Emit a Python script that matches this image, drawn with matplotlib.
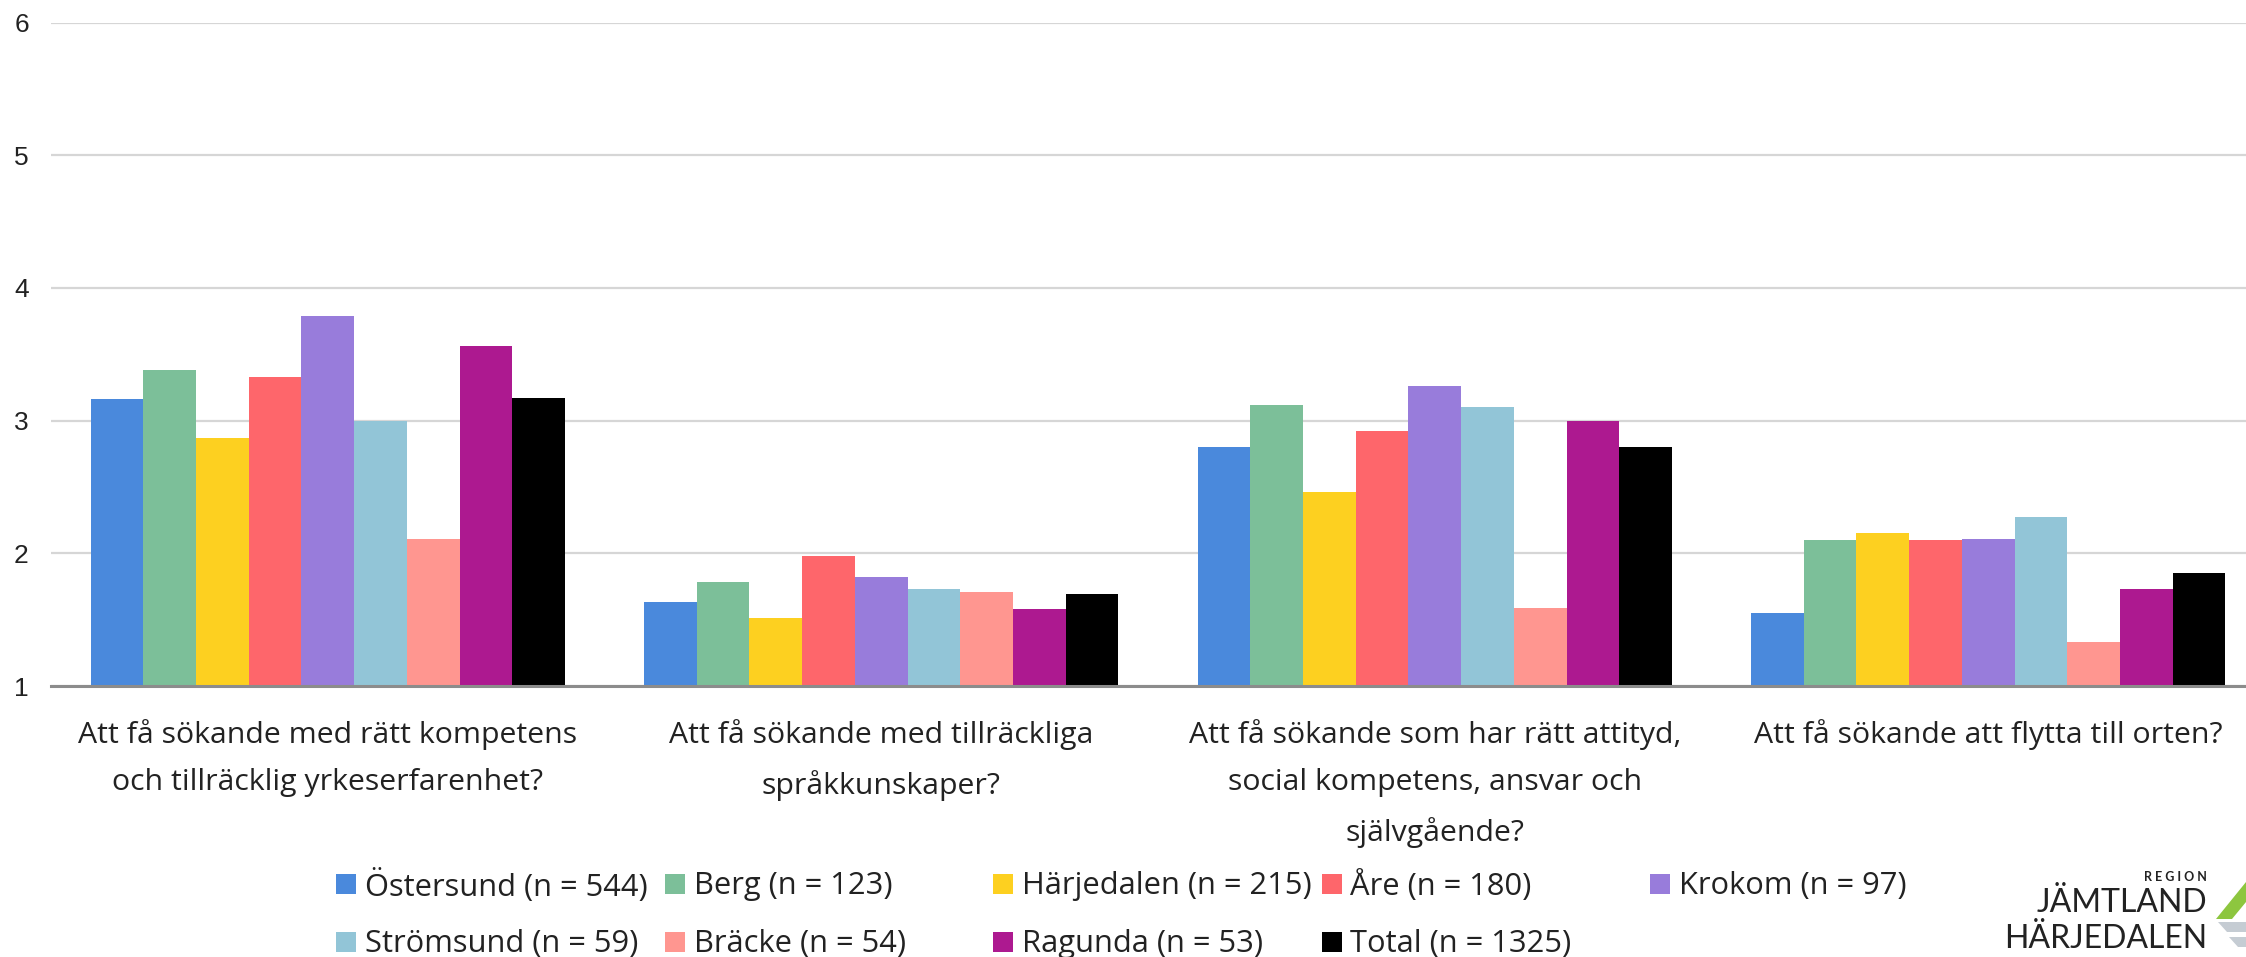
import numpy as np
from matplotlib import pyplot as plt
from matplotlib.patches import Rectangle, Polygon

# data
fragor = [
    "Att få sökande med rätt kompetens\noch tillräcklig yrkeserfarenhet?",
    "Att få sökande med tillräckliga\nspråkkunskaper?",
    "Att få sökande som har rätt attityd,\nsocial kompetens, ansvar och\nsjälvgående?",
    "Att få sökande att flytta till orten?",
]
kommuner = ["Östersund (n = 544)", "Berg (n = 123)", "Härjedalen (n = 215)",
            "Åre (n = 180)", "Krokom (n = 97)", "Strömsund (n = 59)",
            "Bräcke (n = 54)", "Ragunda (n = 53)", "Total (n = 1325)"]
ostersund = [3.16, 1.63, 2.80, 1.55]
berg = [3.38, 1.78, 3.12, 2.10]
harjedalen = [2.87, 1.51, 2.46, 2.15]
are = [3.33, 1.98, 2.92, 2.10]
krokom = [3.79, 1.82, 3.26, 2.11]
stromsund = [3.00, 1.73, 3.10, 2.27]
bracke = [2.11, 1.71, 1.59, 1.33]
ragunda = [3.56, 1.58, 3.00, 1.73]
total = [3.17, 1.69, 2.80, 1.85]
serier = [ostersund, berg, harjedalen, are, krokom, stromsund, bracke, ragunda, total]
farger = ["#4a89dc", "#7cbf99", "#fdd020", "#fe666b", "#987cdb",
          "#92c5d7", "#ff9690", "#ad1990", "#000000"]

W, H = 2246, 957
fig = plt.figure(figsize=(W / 100, H / 100), dpi=100)
ax = fig.add_axes([51 / W, 1 - 686 / H, (2265 - 51) / W, (686 - 22.5) / H])

x = np.arange(len(fragor))
bw = 0.857 / len(serier)
for i, (vals, c) in enumerate(zip(serier, farger)):
    pos = x - 0.857 / 2 + bw * (i + 0.5)
    ax.bar(pos, np.array(vals) - 1, bw, bottom=1, color=c, linewidth=0, zorder=3)

ax.set_xlim(-0.5, 3.5)
ax.set_ylim(1, 6)
ax.set_yticks([1, 2, 3, 4, 5, 6])
ax.grid(axis="y", color="#d6d6d6", linewidth=1.6, zorder=0)
for s in ["top", "right", "left"]:
    ax.spines[s].set_visible(False)
ax.spines["bottom"].set_color("#8c8c8c")
ax.spines["bottom"].set_linewidth(2.2)
ax.spines["bottom"].set_zorder(4)
ax.tick_params(axis="y", length=0, pad=16, labelsize=19, labelcolor="#222222")
for t in ax.get_yticklabels():
    t.set_family("Liberation Sans")
ax.set_xticks(x)
ax.set_xticklabels(fragor, fontsize=21.8, family="Open Sans", color="#222222",
                   linespacing=1.82)
ax.tick_params(axis="x", length=0, pad=24)

# legend, placed by hand on a regular grid
for i, (lab, c) in enumerate(zip(kommuner, farger)):
    rad, kol = divmod(i, 5)
    x0 = 336 + kol * 328.5
    yc = 884 + rad * 58
    fig.add_artist(Rectangle((x0 / W, 1 - (yc + 10) / H), 20 / W, 20 / H,
                             transform=fig.transFigure, color=c, linewidth=0))
    fig.text((x0 + 29) / W, 1 - (yc + 2) / H, lab, fontsize=22.2, family="Open Sans",
             color="#222222", va="center", ha="left")

# logo
fig.text(2207 / W, 1 - 877 / H, "R E G I O N", fontsize=9, family="Lato",
         color="#222222", ha="right", va="center", fontweight="bold")
fig.text(2207 / W, 1 - 903 / H, "JÄMTLAND", fontsize=23, family="Lato",
         color="#222222", ha="right", va="center")
fig.text(2207 / W, 1 - 939 / H, "HÄRJEDALEN", fontsize=23, family="Lato",
         color="#222222", ha="right", va="center")
gron = [(2216, 919), (2246, 882), (2246, 902), (2232, 919)]
gra1 = [(2218, 922), (2246, 922), (2246, 932), (2227, 932)]
gra2 = [(2229, 937), (2246, 937), (2246, 947), (2238, 947)]
for pts, c in [(gron, "#8dc63f"), (gra1, "#c5ccd3"), (gra2, "#c5ccd3")]:
    fig.add_artist(Polygon([(px / W, 1 - py / H) for px, py in pts], closed=True,
                           transform=fig.transFigure, color=c, linewidth=0))

fig.savefig("out.png", dpi=100)
